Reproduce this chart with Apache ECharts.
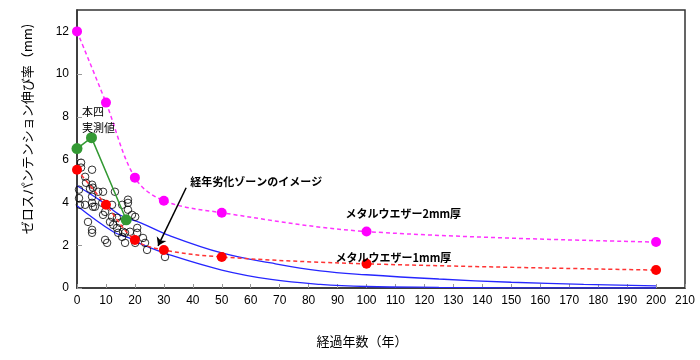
<!DOCTYPE html>
<html>
<head>
<meta charset="utf-8">
<script src="https://cdn.jsdelivr.net/npm/echarts@6/dist/echarts.min.js"></script>
<style>html,body{margin:0;padding:0;background:#fff;}#c{width:700px;height:360px;}</style>
</head>
<body>
<div id="c"></div>
<script>
// ---- data ----
const xTicks = [0,10,20,30,40,50,60,70,80,90,100,110,120,130,140,150,160,170,180,190,200,210];
const yTicks = [0,2,4,6,8,10,12];

const mw2X = [0,10,20,30,50,100,200];
const mw2Y = [12,8.67,5.16,4.08,3.52,2.64,2.15];

const mw1X = [0,10,20,30,50,100,200];
const mw1Y = [5.53,3.89,2.25,1.78,1.45,1.13,0.84];

const honshiX = [0,5,17];
const honshiY = [6.52,7.03,3.19];

const upperX = [0,8.5,15,22,32,50,67,84,100,125,150,175,200];
const upperY = [4.78,4.05,3.4,3.05,2.45,1.64,1.17,0.8,0.62,0.42,0.27,0.17,0.1];

const lowerX = [0,12.5,18,22,32,50,67,84,100,125,150,200];
const lowerY = [3.85,2.63,2.34,2.06,1.55,0.84,0.4,0.17,0.07,0.03,0.01,0];

const obsX = [1.4,1.4,5.2,2.8,3.1,5.2,4.5,7.3,9.0,13.1,5.2,1.0,2.8,5.2,5.5,8.7,12.1,17.6,6.2,9.7,9.0,12.1,13.8,3.8,11.4,12.5,14.9,5.2,5.2,13.8,14.2,15.9,9.7,10.4,15.6,16.6,15.6,17.6,20.1,20.8,20.8,18.3,22.8,23.5,20.1,24.2,30.4,0.7,0.7,5.5,17.6,19.0,16.6];
const obsY = [5.86,5.63,5.53,5.20,4.92,4.83,4.64,4.50,4.50,4.50,4.27,3.89,3.89,3.98,3.80,3.98,3.89,4.13,3.80,3.56,3.42,3.33,3.28,3.09,3.09,2.95,3.05,2.72,2.58,2.81,2.58,2.63,2.25,2.11,2.39,2.11,3.89,3.98,3.33,2.81,2.58,2.63,2.34,2.11,2.11,1.78,1.45,4.60,4.20,4.69,3.66,3.42,2.58];

// annotations (data coords)
const arrowFrom = [37.7,4.69];
const arrowTo = [28,1.97];
const zoneLabelPos = [39.1,4.97];
const honshiLabelPos = [1.7,8.25];
const mw2LabelPos = [92.7,3.47];
const mw1LabelPos = [89.3,1.41];

const zip = (xs, ys) => xs.map((x,i) => [x, ys[i]]);

const chart = echarts.init(document.getElementById('c'), null, {renderer:'canvas'});
const labelFont = {fontFamily:'Liberation Sans, Arial, sans-serif', fontSize:12, color:'#000'};
const jp = 'Noto Sans CJK JP';

const option = {
  animation:false,
  backgroundColor:'#fff',
  grid:{left:77, right:15, top:10, bottom:72, show:true, borderColor:'#333', borderWidth:1.5, backgroundColor:'transparent'},
  xAxis:{type:'value', min:0, max:210, interval:10,
    axisLine:{onZero:false, lineStyle:{color:'#333', width:1.5}},
    axisTick:{inside:true, length:4, lineStyle:{color:'#999'}},
    splitLine:{show:false},
    axisLabel:Object.assign({margin:7, formatter:v => xTicks.includes(v) ? String(v) : ''}, labelFont)},
  yAxis:{type:'value', min:0, max:13, interval:2,
    axisLine:{show:true, lineStyle:{color:'#333', width:1.5}},
    axisTick:{show:true, inside:true, length:5, lineStyle:{color:'#999'}},
    splitLine:{show:false},
    axisLabel:Object.assign({margin:8, showMaxLabel:false, formatter:v => yTicks.includes(v) ? String(v) : ''}, labelFont)},
  series:[
    {type:'line', data:zip(upperX, upperY), smooth:0.4, symbol:'none', lineStyle:{color:'#2626ff', width:1.3}, z:2},
    {type:'line', data:zip(lowerX, lowerY), smooth:0.4, symbol:'none', lineStyle:{color:'#2626ff', width:1.3}, z:2},
    {type:'scatter', data:zip(obsX, obsY), symbol:'circle', symbolSize:7.5,
      itemStyle:{color:'rgba(255,255,255,0)', borderColor:'#000', borderWidth:1}, z:3},
    {type:'line', data:zip(mw2X, mw2Y), smooth:0.35, symbol:'circle', symbolSize:10,
      itemStyle:{color:'#ff00ff'}, lineStyle:{color:'#ff33ff', width:1.5, type:[4,3]}, z:4},
    {type:'line', data:zip(mw1X, mw1Y), smooth:0.35, symbol:'circle', symbolSize:10,
      itemStyle:{color:'#ff0000'}, lineStyle:{color:'#ff3333', width:1.5, type:[4,3]}, z:4,
      markLine:{silent:true, symbol:['none','arrow'], symbolSize:8, label:{show:false},
        lineStyle:{color:'#000', width:1.5, type:'solid'},
        data:[[{coord:arrowFrom},{coord:arrowTo}]]}},
    {type:'line', data:zip(honshiX, honshiY), symbol:'circle', symbolSize:11,
      itemStyle:{color:'#339933'}, lineStyle:{color:'#339933', width:1.5}, z:5}
  ]
};
chart.setOption(option);

const px = p => chart.convertToPixel({gridIndex:0}, p);
const txt = (pos, text, opts) => {
  const p = px(pos);
  return Object.assign({type:'text', x:p[0], y:p[1], z:100,
    style:Object.assign({text:text, fill:'#000', font:'11px "' + jp + '"', textAlign:'left', textVerticalAlign:'middle'}, opts || {})});
};
const hp = px(honshiLabelPos);
chart.setOption({graphic:[
  txt(zoneLabelPos, '経年劣化ゾーンのイメージ', {font:'bold 11px "' + jp + '"'}),
  txt(honshiLabelPos, '本四'),
  {type:'text', x:hp[0], y:hp[1] + 16, z:100, style:{text:'実測値', fill:'#000', font:'11px "' + jp + '"', textAlign:'left', textVerticalAlign:'middle'}},
  txt(mw2LabelPos, 'メタルウエザー2mm厚', {font:'bold 11px "' + jp + '"'}),
  txt(mw1LabelPos, 'メタルウエザー1mm厚', {font:'bold 11px "' + jp + '"'}),
  {type:'text', x:27, y:129, rotation:Math.PI/2, z:100,
    style:{text:'ゼロスパンテンション伸び率（mm)', fill:'#000', font:'13px "' + jp + '"', textAlign:'center', textVerticalAlign:'middle'}},
  {type:'text', x:362, y:341, z:100,
    style:{text:'経過年数（年）', fill:'#000', font:'13px "' + jp + '"', textAlign:'center', textVerticalAlign:'middle'}}
]});
</script>
</body>
</html>
